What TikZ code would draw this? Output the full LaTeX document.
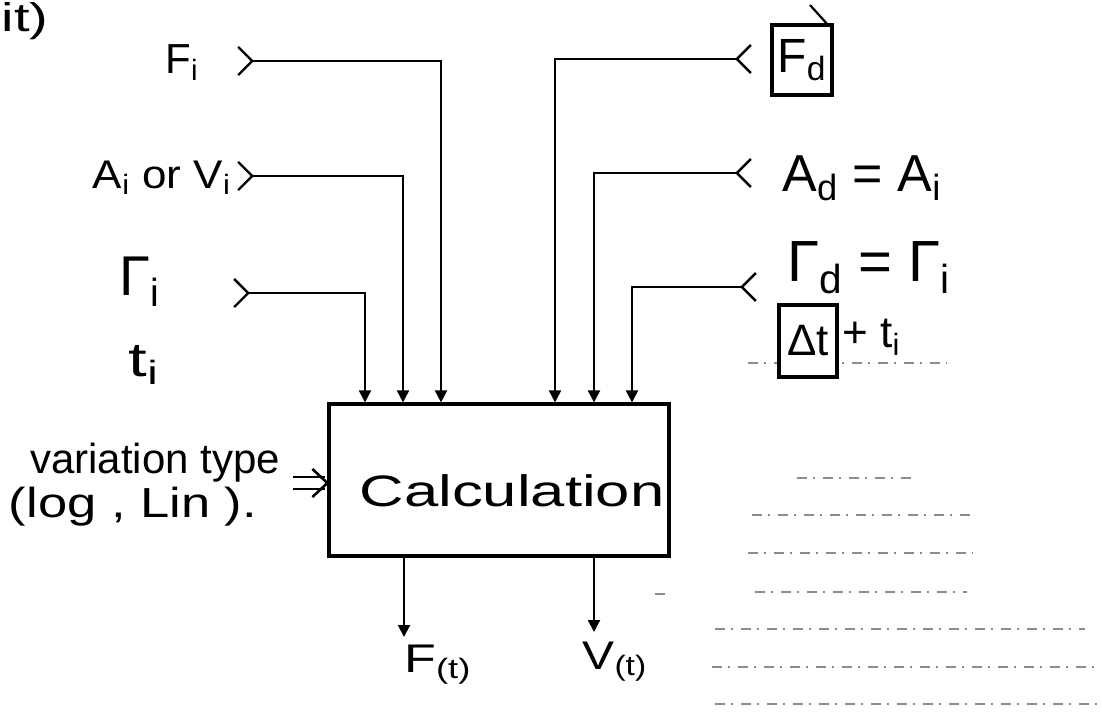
\documentclass[tikz,border=0pt]{standalone}
\usepackage{fontspec}
\setmainfont{Liberation Sans}
\usepackage{graphicx}
\usetikzlibrary{arrows.meta}
\newcommand{\hsz}[1]{\fontsize{#1}{#1}\selectfont}
\begin{document}
\begin{tikzpicture}[x=0.5pt,y=-0.5pt,
  wire/.style={line width=1pt},
  feed/.style={wire,{Straight Barb[reversed,length=7pt,width=14pt,line width=1.2pt]}-{Triangle[length=6pt,width=6pt]}},
  outwire/.style={wire,-{Triangle[length=6pt,width=6pt]}},
  lbl/.style={inner sep=0pt,anchor=center},
  frame/.style={draw,line width=1.6pt,inner sep=0pt},
  ruled/.style={black!45,line width=0.6pt,dash pattern=on 5pt off 3pt on 1pt off 4pt}]
\fill[white] (0,0) rectangle (1102,713);
\useasboundingbox (0,0) rectangle (1102,713);

% faint ruled lines of the paper
\draw[ruled] (748,363) -- (947,363);
\draw[ruled] (797,478) -- (915,478);
\draw[ruled] (752,515) -- (973,515);
\draw[ruled] (748,553) -- (973,553);
\draw[ruled] (755,592) -- (967,592);
\draw[ruled] (715,629) -- (1085,629);
\draw[ruled] (712,667) -- (1100,667);
\draw[ruled] (715,704) -- (1100,704);
\draw[ruled] (655,594) -- (665,594);

% main box
\node[frame, minimum width=170pt, minimum height=76pt] (calc) at (499,480) {};
\node[lbl] (calctext) at (512,491) {\scalebox{1.4}[1]{\hsz{22}Calculation}};

% left labels
\node[lbl] (it) at (25,21) {\scalebox{1.4}[1]{\hsz{20}it)}};
\node[lbl] (Fi) at (182,63) {\hsz{21}F\textsubscript{i}};
\node[lbl] (AiVi) at (162,178) {\scalebox{1.1}[1]{\hsz{20}A\textsubscript{i} or V\textsubscript{i}}};
\node[lbl] (Gi) at (140,282) {\hsz{28}Γ\textsubscript{i}};
\node[lbl] (ti) at (144,365) {\scalebox{1.4}[1]{\hsz{24}t\textsubscript{i}}};
\node[lbl] (vt1) at (155,463) {\hsz{21}variation type};
\node[lbl] (vt2) at (133,507) {\scalebox{1.25}[1]{\hsz{21}(log , Lin ).}};

% variation type double arrow
\coordinate (vtA) at (293,483);
\coordinate (vtTip) at (vtA -| calc.west);
\draw[line width=1.3pt, double, double distance=4.6pt] (vtA) -- ([xshift=-1pt]vtTip);
\draw[line width=1.3pt, line join=round] ([xshift=-7.5pt,yshift=7pt]vtTip) -- (vtTip) -- ([xshift=-7.5pt,yshift=-7pt]vtTip);

% inputs from the left
\coordinate (FiT) at (237,61);  \coordinate (FiC) at (441,61);
\coordinate (AiT) at (237,176); \coordinate (AiC) at (403,176);
\coordinate (GiT) at (233,293); \coordinate (GiC) at (365,293);
\draw[feed] (FiT) -- (FiC) -- (FiC |- calc.north);
\draw[feed] (AiT) -- (AiC) -- (AiC |- calc.north);
\draw[feed] (GiT) -- (GiC) -- (GiC |- calc.north);

% inputs from the right
\coordinate (FdT) at (752,59);  \coordinate (FdC) at (555,59);
\coordinate (AdT) at (752,173); \coordinate (AdC) at (594,173);
\coordinate (GdT) at (757,287); \coordinate (GdC) at (632,287);
\draw[feed] (FdT) -- (FdC) -- (FdC |- calc.north);
\draw[feed] (AdT) -- (AdC) -- (AdC |- calc.north);
\draw[feed] (GdT) -- (GdC) -- (GdC |- calc.north);

% right labels
\node[frame, minimum width=30pt, minimum height=35pt] (Fd) at (802,60) {\hsz{24}F\textsubscript{d}};
\coordinate (FdStroke) at (810,5);
\draw[line width=1.1pt] (FdStroke) -- ([xshift=-3.5pt]Fd.north east);
\node[lbl] (Ad) at (862,178) {\hsz{26}A\textsubscript{d} = A\textsubscript{i}};
\node[lbl] (Gd) at (869,268) {\hsz{29}Γ\textsubscript{d} = Γ\textsubscript{i}};
\node[frame, fill=white, minimum width=29pt, minimum height=36pt] (Dt) at (808,341) {\hsz{22}Δt};
\node[lbl, anchor=west] (ti2) at (842,337) {\hsz{22}+ t\textsubscript{i}};

% outputs
\coordinate (Ft) at (404,637);
\coordinate (Vt) at (594,632);
\draw[outwire] (calc.south -| Ft) -- (Ft);
\draw[outwire] (calc.south -| Vt) -- (Vt);
\node[lbl] (Fout) at (438,665) {\scalebox{1.3}[1]{\hsz{20}F\textsubscript{(t)}}};
\node[lbl] (Vout) at (615,662) {\scalebox{1.2}[1]{\hsz{20}V\textsubscript{(t)}}};
\end{tikzpicture}
\end{document}
